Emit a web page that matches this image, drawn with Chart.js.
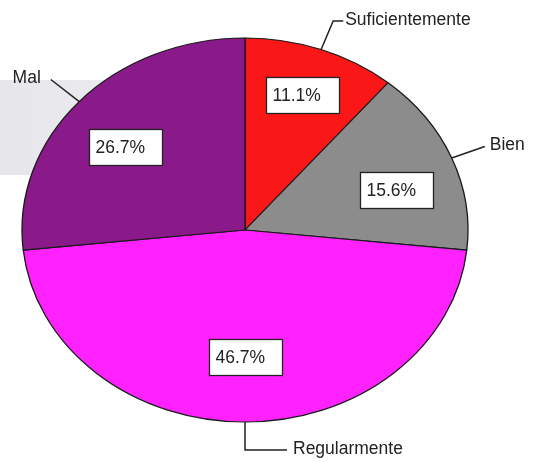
<!DOCTYPE html>
<html>
<head>
<meta charset="utf-8">
<script src="https://cdn.jsdelivr.net/npm/chart.js@4/dist/chart.umd.min.js"></script>
<style>
html,body{margin:0;padding:0;background:#fff;}
canvas{display:block;}
</style>
</head>
<body>
<canvas id="c" width="533" height="462"></canvas>
<script>
const categories = ['Suficientemente', 'Bien', 'Regularmente', 'Mal'];
const values = [11.1, 15.6, 46.7, 26.7];
const percentLabels = ['11.1%', '15.6%', '46.7%', '26.7%'];
const colors = ['#f91717', '#8c8c8c', '#ff22ff', '#8a1a8a'];

// layout of the labels (inner box radius fraction / angle shift, leader length, tail, side)
const boxRadius = [0.75, 0.71, 0.66, 0.69];
const boxAngleShift = [0, 5, 0, -3];
const leaderLen = [31, 35, 28, 36];
const leaderTail = [10, 0, 42, 0];
const labelSide = [1, 1, 1, -1];
const labelGap = [2, 5, 6, 10];
const Y_SCALE = 192 / 223;
const FONT = '17.5px "Liberation Sans", Arial, sans-serif';

const ellipsePlugin = {
  id: 'ellipse',
  beforeDatasetsDraw(chart) {
    const a = chart.getDatasetMeta(0).data[0];
    const ctx = chart.ctx;
    ctx.save();
    ctx.translate(a.x, a.y);
    ctx.scale(1, Y_SCALE);
    ctx.translate(-a.x, -a.y);
  },
  afterDatasetsDraw(chart) {
    chart.ctx.restore();
  }
};

const labelPlugin = {
  id: 'labels',
  beforeDraw(chart) {
    const ctx = chart.ctx;
    ctx.save();
    const g = ctx.createLinearGradient(0, 0, 140, 0);
    g.addColorStop(0, '#e6e6eb');
    g.addColorStop(0.7, '#e9e9ee');
    g.addColorStop(1, 'rgba(240,240,244,0)');
    ctx.fillStyle = g;
    ctx.fillRect(0, 80, 140, 95);
    ctx.restore();
  },
  afterDraw(chart) {
    const ctx = chart.ctx;
    const arcs = chart.getDatasetMeta(0).data;
    ctx.save();
    ctx.font = FONT;
    arcs.forEach((arc, i) => {
      const cx = arc.x, cy = arc.y;
      const r = arc.outerRadius;
      const mid = (arc.startAngle + arc.endAngle) / 2;
      const cs = Math.cos(mid), sn = Math.sin(mid);
      // inner percentage box
      const bmid = mid + boxAngleShift[i] * Math.PI / 180;
      const lx = cx + Math.cos(bmid) * r * boxRadius[i];
      const ly = cy + Math.sin(bmid) * r * boxRadius[i] * Y_SCALE;
      const bw = 73, bh = 36;
      const bx = Math.round(lx - bw / 2) + 0.5, by = Math.round(ly - bh / 2) + 0.5;
      ctx.fillStyle = '#ffffff';
      ctx.fillRect(bx, by, bw, bh);
      ctx.strokeStyle = '#222';
      ctx.lineWidth = 1.3;
      ctx.strokeRect(bx, by, bw, bh);
      ctx.fillStyle = '#222';
      ctx.textAlign = 'left';
      ctx.textBaseline = 'middle';
      ctx.fillText(percentLabels[i], bx + 6, by + bh / 2 + 1);
      // leader line
      const x0 = cx + cs * r, y0 = cy + sn * r * Y_SCALE;
      let dx = cs, dy = sn * Y_SCALE;
      const len = Math.hypot(dx, dy);
      dx /= len; dy /= len;
      const x1 = x0 + dx * leaderLen[i], y1 = y0 + dy * leaderLen[i];
      const x2 = x1 + labelSide[i] * leaderTail[i];
      ctx.beginPath();
      ctx.moveTo(x0, y0);
      ctx.lineTo(x1, y1);
      ctx.lineTo(x2, y1);
      ctx.strokeStyle = '#222';
      ctx.lineWidth = 1.5;
      ctx.stroke();
      ctx.textAlign = labelSide[i] > 0 ? 'left' : 'right';
      ctx.fillText(categories[i], x2 + labelSide[i] * labelGap[i], y1 - 1);
    });
    ctx.restore();
  }
};

new Chart(document.getElementById('c'), {
  type: 'pie',
  data: {
    labels: categories,
    datasets: [{
      data: values,
      backgroundColor: colors,
      borderColor: '#1a1a1a',
      borderWidth: 1.3,
      radius: 223
    }]
  },
  options: {
    responsive: false,
    animation: false,
    devicePixelRatio: 1,
    layout: { padding: { left: 22, right: 65, top: 7, bottom: 9 } },
    plugins: { legend: { display: false }, tooltip: { enabled: false } }
  },
  plugins: [ellipsePlugin, labelPlugin]
});
</script>
</body>
</html>
